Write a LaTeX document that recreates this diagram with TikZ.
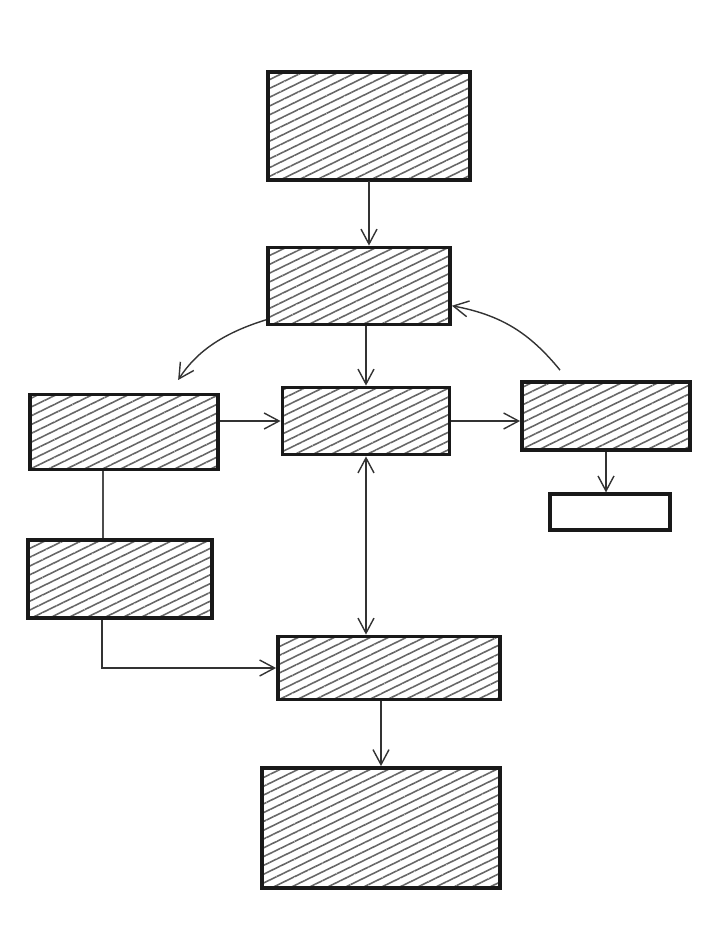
\documentclass[tikz,border=0pt]{standalone}
\usetikzlibrary{shapes.geometric, arrows.meta, patterns.meta}
\tikzstyle{sketchbox} = [rectangle, draw=black!90, line width=2.2pt, pattern={Lines[angle=26,distance=4.5pt,line width=0.9pt]}, pattern color=black!60]
\tikzstyle{emptybox} = [rectangle, draw=black!90, line width=1.8pt]
\tikzstyle{arrow} = [thick, draw=black!80, -{Straight Barb[length=3mm,width=3.2mm]}]
\tikzstyle{twoarrow} = [thick, draw=black!80, {Straight Barb[length=3mm,width=3.2mm]}-{Straight Barb[length=3mm,width=3.2mm]}]
\tikzstyle{plainline} = [thick, draw=black!70]
\begin{document}
\begin{tikzpicture}[x=0.02cm, y=-0.02cm]
\useasboundingbox (0,0) rectangle (713,950);
\node (top) [sketchbox, minimum width=4.04cm, minimum height=2.16cm] at (369,126) {};
\node (second) [sketchbox, minimum width=3.64cm, minimum height=1.54cm] at (359,286) {};
\node (middle) [sketchbox, minimum width=3.34cm, minimum height=1.34cm] at (366,421) {};
\node (left) [sketchbox, minimum width=3.76cm, minimum height=1.50cm] at (124,432) {};
\node (right) [sketchbox, minimum width=3.36cm, minimum height=1.36cm] at (606,416) {};
\node (small) [emptybox, minimum width=2.40cm, minimum height=0.72cm] at (610,512) {};
\node (lowleft) [sketchbox, minimum width=3.68cm, minimum height=1.56cm] at (120,579) {};
\node (lowcenter) [sketchbox, minimum width=4.44cm, minimum height=1.26cm] at (389,668) {};
\node (bottom) [sketchbox, minimum width=4.76cm, minimum height=2.40cm] at (381,828) {};

%%% drawing %%%%%%%%%%%%%%%%%%%%%%%
\draw [arrow] (top.south) -- (top.south |- second.north);
\draw [arrow] (middle.north |- second.south) -- (middle.north);
\draw [arrow, shorten >=0.3cm] (second.200) to[bend right=20] ([xshift=0.92cm]left.north);
\draw [arrow] ([xshift=-0.92cm, yshift=0.2cm]right.north) to[bend right=20] (second.-12);
\draw [arrow] (left.east |- middle) -- (middle.west);
\draw [arrow] (middle.east) -- (middle.east -| right.west);
\draw [arrow] (right.south) -- (right.south |- small.north);
\draw [plainline] ([xshift=-0.42cm]left.south) -- ([xshift=-0.42cm]left.south |- lowleft.north);
\draw [arrow] ([xshift=-0.36cm]lowleft.south) |- (lowcenter.west);
\draw [twoarrow] (middle.south) -- (middle.south |- lowcenter.north);
\draw [arrow] (bottom.north |- lowcenter.south) -- (bottom.north);
\end{tikzpicture}
\end{document}
